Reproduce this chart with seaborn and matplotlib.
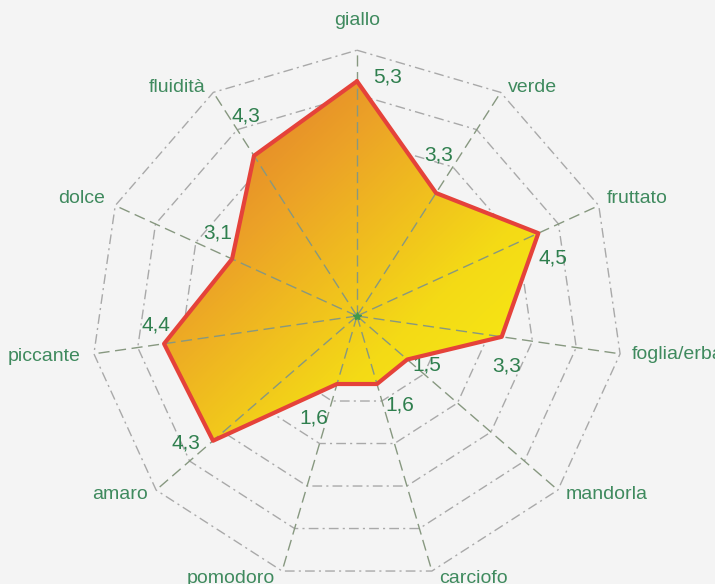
import numpy as np
import pandas as pd
import matplotlib.pyplot as plt
import seaborn as sns
from matplotlib.colors import LinearSegmentedColormap
from matplotlib.patches import Polygon

# Dati del profilo sensoriale
categorie = ['giallo', 'verde', 'fruttato', 'foglia/erba', 'mandorla', 'carciofo',
             'pomodoro', 'amaro', 'piccante', 'dolce', 'fluidità']
valori = [5.3, 3.3, 4.5, 3.3, 1.5, 1.6, 1.6, 4.3, 4.4, 3.1, 4.3]
livelli = [1, 2, 3, 4, 5, 6]
etichette_valori = ['5,3', '3,3', '4,5', '3,3', '1,5', '1,6', '1,6', '4,3', '4,4', '3,1', '4,3']

# Spostamenti (pixel) delle etichette rispetto ai vertici
off_valori = [(31, 4), (3, 38), (15, -25), (5, -29), (20, -5), (23, -21),
              (-23, -34), (-27, -2), (-8, 19), (-14, 26), (-8, 40)]
off_categorie = [(0, 30), (7, 5), (8, 7), (12, -1), (8, -4), (7, -7),
                 (-7, -7), (-8, -4), (-13, -3), (-10, 7), (-8, 5)]

sns.set_style('white')
plt.rcParams['font.family'] = ['Liberation Sans', 'DejaVu Sans']

n = len(categorie)
angoli = np.arange(n) * 2 * np.pi / n  # in senso orario dall'alto

def xy(r, a):
    return np.asarray(r) * np.sin(a), np.asarray(r) * np.cos(a)

fig = plt.figure(figsize=(7.15, 5.84), dpi=100, facecolor='#f4f4f4')
ax = fig.add_axes([0, 0, 1, 1])
ax.set_facecolor('#f4f4f4')
scala = 44.3
cx, cy = 357, 316
ax.set_xlim(-cx / scala, (715 - cx) / scala)
ax.set_ylim(-(584 - cy) / scala, cy / scala)
ax.set_aspect('equal')
ax.axis('off')

# Griglia poligonale
for liv in livelli:
    gx, gy = xy([liv] * (n + 1), np.append(angoli, angoli[0]))
    ax.plot(gx, gy, color='#a9a9a9', lw=1, linestyle=(0, (7, 3, 1.5, 3)), zorder=1)

# Area con sfumatura
px, py = xy(valori, angoli)
poly = Polygon(np.column_stack([px, py]), closed=True, facecolor='none', edgecolor='none')
ax.add_patch(poly)
cmap = LinearSegmentedColormap.from_list('olio', ['#de702c', '#eca327', '#f4da16', '#f8f212'])
xx, yy = np.meshgrid(np.linspace(px.min(), px.max(), 300), np.linspace(py.min(), py.max(), 300))
t = (xx - px.min()) / (px.max() - px.min()) + (py.max() - yy) / (py.max() - py.min())
img = ax.imshow(t, extent=[px.min(), px.max(), py.min(), py.max()], origin='lower',
                cmap=cmap, aspect='auto', zorder=2, interpolation='bilinear')
img.set_clip_path(poly)

# Raggi
for a in angoli:
    sx, sy = xy([0, livelli[-1]], a)
    ax.plot(sx, sy, color='#879880', lw=1, linestyle=(0, (8, 4)), zorder=3)

# Contorno
df = pd.DataFrame({'x': np.append(px, px[0]), 'y': np.append(py, py[0])})
sns.lineplot(data=df, x='x', y='y', sort=False, estimator=None, color='#e5423a',
             lw=3, ax=ax, zorder=4)
ax.plot(0, 0, marker='*', color='#3f9a4a', ms=6, zorder=5)
ax.set_xlabel('')
ax.set_ylabel('')

# Etichette
for i in range(n):
    ox, oy = off_categorie[i]
    ha = 'center' if ox == 0 else ('left' if ox > 0 else 'right')
    vx, vy = xy(livelli[-1], angoli[i])
    ax.annotate(categorie[i], (vx, vy), xytext=(ox, oy), textcoords='offset pixels',
                ha=ha, va='center', fontsize=14, color='#3f8a5e')
    dx, dy = off_valori[i]
    ax.annotate(etichette_valori[i], (px[i], py[i]), xytext=(dx, dy), textcoords='offset pixels',
                ha='center', va='center', fontsize=15, color='#2f7f4e')

fig.savefig('out.png', dpi=100, facecolor=fig.get_facecolor())
